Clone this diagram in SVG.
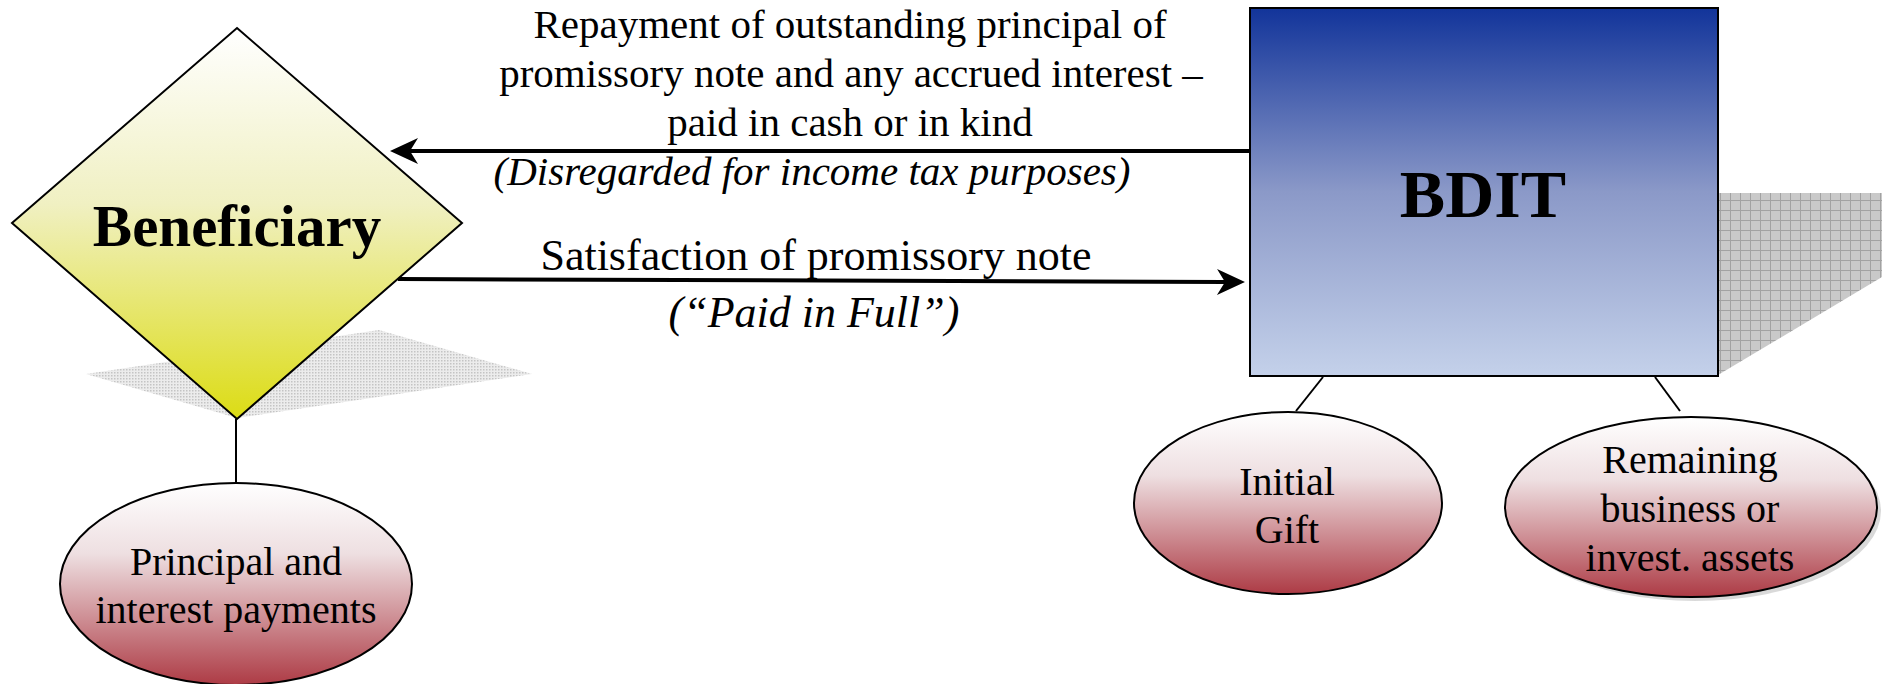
<svg xmlns="http://www.w3.org/2000/svg" width="1882" height="684" viewBox="0 0 1882 684">
  <style>
    .t { font-family: "Liberation Serif", "Times New Roman", serif; fill: #000; text-anchor: middle; }
    .lbl { font-size: 40px; }
    .top { font-size: 41px; }
    .bot { font-size: 44px; }
    .it { font-style: italic; }
    .bold { font-weight: bold; }
    .edge { stroke: #000; stroke-width: 2; fill: none; }
    .arrow { stroke: #000; stroke-width: 4; fill: none; }
    .node { stroke: #000; stroke-width: 2; }
  </style>
  <defs>
    <linearGradient id="gYellow" x1="0" y1="0" x2="0" y2="1">
      <stop offset="0" stop-color="#ffffff"/>
      <stop offset="0.45" stop-color="#f0f0c2"/>
      <stop offset="1" stop-color="#dcdc14"/>
    </linearGradient>
    <linearGradient id="gBlue" x1="0" y1="0" x2="0" y2="1">
      <stop offset="0" stop-color="#12349a"/>
      <stop offset="0.5" stop-color="#8b99c8"/>
      <stop offset="1" stop-color="#c4d1ea"/>
    </linearGradient>
    <linearGradient id="gRed" x1="0" y1="0" x2="0" y2="1">
      <stop offset="0" stop-color="#ffffff"/>
      <stop offset="0.35" stop-color="#eedfe1"/>
      <stop offset="1" stop-color="#ad3b45"/>
    </linearGradient>
    <pattern id="pDots" width="3" height="3" patternUnits="userSpaceOnUse">
      <rect width="3" height="3" fill="#ececec"/>
      <rect width="1.5" height="1.5" fill="#c4c4c4"/>
    </pattern>
    <pattern id="pGrid" width="10" height="10" patternUnits="userSpaceOnUse">
      <rect width="10" height="10" fill="#c9c9c9"/>
      <path d="M0,0.5 H10 M0.5,0 V10" stroke="#a2a2a2" stroke-width="1"/>
    </pattern>
    <marker id="ah" markerUnits="userSpaceOnUse" markerWidth="32" markerHeight="28" viewBox="0 0 32 28" refX="10" refY="14" orient="auto">
      <path d="M30,14 L2,1 L10,14 L2,27 Z" fill="#000"/>
    </marker>
  </defs>

  <g id="shadows">
    <polygon points="86,374 379,330 532,374 237,418" fill="url(#pDots)"/>
    <polygon points="1718,193 1882,193 1882,277 1718,375" fill="url(#pGrid)"/>
    <ellipse cx="1695" cy="511" rx="186" ry="90" fill="#cfcfcf" opacity="0.8"/>
  </g>

  <g id="connectors">
    <path class="arrow" d="M1249,151 L410,151" marker-end="url(#ah)"/>
    <path class="arrow" d="M398,279 L1225,282" marker-end="url(#ah)"/>
    <path class="edge" d="M236,419 L236,483"/>
    <path class="edge" d="M1323,377 L1296,411"/>
    <path class="edge" d="M1655,377 L1680,411"/>
  </g>

  <g id="node-beneficiary">
    <polygon class="node" points="237,28 462,223 237,419 12,223" fill="url(#gYellow)"/>
    <text class="t bold" x="237" y="246" font-size="59">Beneficiary</text>
  </g>

  <g id="node-bdit">
    <rect class="node" x="1250" y="8" width="468" height="368" fill="url(#gBlue)"/>
    <text class="t bold" x="1483" y="217" font-size="68">BDIT</text>
  </g>

  <g id="node-principal">
    <ellipse class="node" cx="236" cy="584" rx="176" ry="101" fill="url(#gRed)"/>
    <text class="t lbl" x="236" y="575">Principal and</text>
    <text class="t lbl" x="236" y="623">interest payments</text>
  </g>

  <g id="node-initial-gift">
    <ellipse class="node" cx="1288" cy="503" rx="154" ry="91" fill="url(#gRed)"/>
    <text class="t lbl" x="1287" y="495">Initial</text>
    <text class="t lbl" x="1287" y="543">Gift</text>
  </g>

  <g id="node-remaining">
    <ellipse class="node" cx="1691" cy="507" rx="186" ry="90" fill="url(#gRed)"/>
    <text class="t lbl" x="1690" y="473">Remaining</text>
    <text class="t lbl" x="1690" y="522">business or</text>
    <text class="t lbl" x="1690" y="571">invest. assets</text>
  </g>

  <g id="labels">
    <text class="t top" x="850" y="38">Repayment of outstanding principal of</text>
    <text class="t top" x="851" y="87">promissory note and any accrued interest –</text>
    <text class="t top" x="850" y="136">paid in cash or in kind</text>
    <text class="t top it" x="812" y="185">(Disregarded for income tax purposes)</text>
    <text class="t bot" x="816" y="270">Satisfaction of promissory note</text>
    <text class="t bot it" x="814" y="327">(“Paid in Full”)</text>
  </g>
</svg>
